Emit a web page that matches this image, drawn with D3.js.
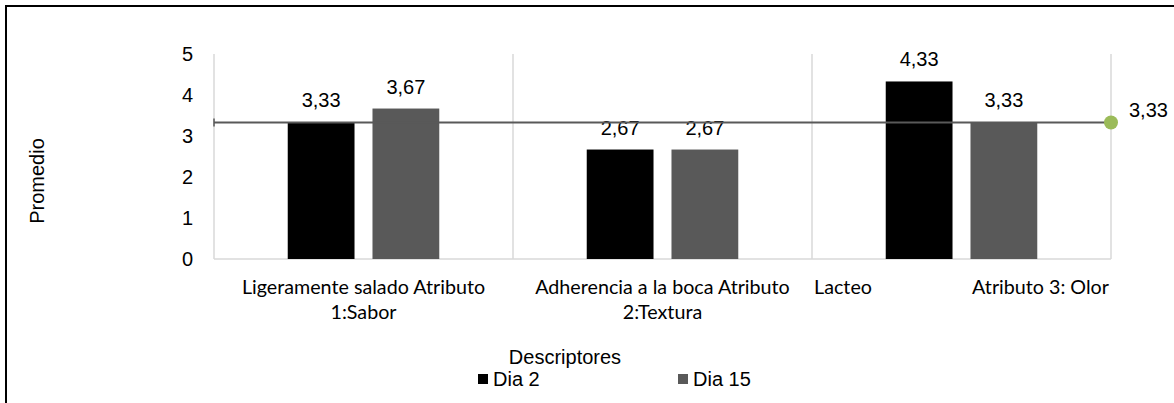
<!DOCTYPE html>
<html>
<head>
<meta charset="utf-8">
<script src="https://cdnjs.cloudflare.com/ajax/libs/d3/7.8.5/d3.min.js"></script>
<style>
  body { margin: 0; background: #fff; }
  svg { display: block; }
</style>
</head>
<body>
<svg id="mysvg" width="1174" height="403"></svg>
<script>
// data
var categories = ["Ligeramente salado Atributo|1:Sabor", "Adherencia a la boca Atributo|2:Textura", "Lacteo                    Atributo 3: Olor"];
var series = ["Dia 2", "Dia 15"];
var dia2 = [3.33, 2.67, 4.33];
var dia15 = [3.67, 2.67, 3.33];
var refValue = 3.33;
var yTicks = [0, 1, 2, 3, 4, 5];
var colors = ["#000000", "#595959"];

var svg = d3.select("#mysvg");
var margin = { top: 54, left: 214, right: 63, bottom: 144 };
var w = 1174 - margin.left - margin.right;
var h = 403 - margin.top - margin.bottom;

// outer frame
svg.append("rect")
  .attr("x", 6).attr("y", 6)
  .attr("width", 1200).attr("height", 450)
  .attr("fill", "none")
  .attr("stroke", "#000")
  .attr("stroke-width", 2);

var g = svg.append("g")
  .attr("transform", "translate(" + margin.left + "," + margin.top + ")");

var xScale = d3.scaleBand().domain(categories).range([0, w]).padding(0);
var x1 = d3.scaleBand().domain(series).range([0, xScale.bandwidth()])
  .paddingInner(0.212).paddingOuter(0.87);
var yScale = d3.scaleLinear().domain([0, 5]).range([h, 0]);

// category separators
var seps = categories.map(function (c) { return xScale(c); }).concat([w]);
g.selectAll(".sep").data(seps).enter().append("line")
  .attr("class", "sep")
  .attr("x1", function (d) { return d; }).attr("x2", function (d) { return d; })
  .attr("y1", 0).attr("y2", h)
  .attr("stroke", "#d9d9d9").attr("stroke-width", 1.5);

g.append("line")
  .attr("x1", 0).attr("x2", w)
  .attr("y1", h).attr("y2", h)
  .attr("stroke", "#d9d9d9").attr("stroke-width", 1.5);

// y axis labels
var yAxis = g.append("g")
  .attr("transform", "translate(-18,0)")
  .call(d3.axisLeft(yScale).tickValues(yTicks).tickSize(0).tickFormat(d3.format("d")));
yAxis.select(".domain").remove();
yAxis.selectAll("text")
  .attr("font-family", "Liberation Sans, Arial, sans-serif")
  .attr("font-size", 20)
  .attr("fill", "#000");

// bars
var rows = categories.map(function (c, i) {
  return { cat: c, vals: [{ s: series[0], v: dia2[i] }, { s: series[1], v: dia15[i] }] };
});

var groups = g.selectAll(".grp").data(rows).enter().append("g")
  .attr("class", "grp")
  .attr("transform", function (d) { return "translate(" + xScale(d.cat) + ",0)"; });

groups.selectAll("rect").data(function (d) { return d.vals; }).enter().append("rect")
  .attr("x", function (d) { return x1(d.s); })
  .attr("y", function (d) { return yScale(d.v); })
  .attr("width", x1.bandwidth())
  .attr("height", function (d) { return h - yScale(d.v); })
  .attr("fill", function (d, i) { return colors[i]; });

groups.selectAll(".lbl").data(function (d) { return d.vals; }).enter().append("text")
  .attr("class", "lbl")
  .attr("x", function (d) { return x1(d.s) + x1.bandwidth() / 2; })
  .attr("y", function (d) { return yScale(d.v) - 15; })
  .attr("text-anchor", "middle")
  .attr("font-family", "Liberation Sans, Arial, sans-serif")
  .attr("font-size", 20)
  .text(function (d) { return d3.format(".2f")(d.v).replace(".", ","); });

// reference line
g.append("line")
  .attr("x1", 0).attr("x2", w)
  .attr("y1", yScale(refValue)).attr("y2", yScale(refValue))
  .attr("stroke", "#595959").attr("stroke-width", 2);
g.append("line")
  .attr("x1", 0).attr("x2", 0)
  .attr("y1", yScale(refValue) - 4).attr("y2", yScale(refValue) + 4)
  .attr("stroke", "#595959").attr("stroke-width", 1.5);
g.append("circle")
  .attr("cx", w).attr("cy", yScale(refValue))
  .attr("r", 7)
  .attr("fill", "#9bbb59");
g.append("text")
  .attr("x", w + 18).attr("y", yScale(refValue) - 5)
  .attr("font-family", "Liberation Sans, Arial, sans-serif")
  .attr("font-size", 20)
  .text(d3.format(".2f")(refValue).replace(".", ","));

// category labels
groups.each(function (d) {
  var lines = d.cat.split("|");
  var t = d3.select(this).append("text")
    .attr("text-anchor", "middle")
    .attr("font-family", "Lato, Carlito, Calibri, sans-serif")
    .attr("font-size", 19.7)
    .attr("xml:space", "preserve")
    .style("white-space", "pre");
  lines.forEach(function (l, i) {
    t.append("tspan")
      .attr("x", xScale.bandwidth() / 2)
      .attr("y", h + 35 + i * 25)
      .text(l);
  });
});

// axis titles
svg.append("text")
  .attr("transform", "translate(44,181) rotate(-90)")
  .attr("text-anchor", "middle")
  .attr("font-family", "Liberation Sans, Arial, sans-serif")
  .attr("font-size", 20)
  .text("Promedio");

svg.append("text")
  .attr("x", 565).attr("y", 364)
  .attr("text-anchor", "middle")
  .attr("font-family", "Liberation Sans, Arial, sans-serif")
  .attr("font-size", 20)
  .text("Descriptores");

// legend
var legX = [478, 678];
var leg = svg.selectAll(".leg").data(series).enter().append("g")
  .attr("class", "leg")
  .attr("transform", function (d, i) { return "translate(" + legX[i] + ",374)"; });
leg.append("rect")
  .attr("width", 10).attr("height", 10)
  .attr("fill", function (d, i) { return colors[i]; });
leg.append("text")
  .attr("x", 15).attr("y", 12)
  .attr("font-family", "Liberation Sans, Arial, sans-serif")
  .attr("font-size", 20)
  .text(function (d) { return d; });
</script>
</body>
</html>
